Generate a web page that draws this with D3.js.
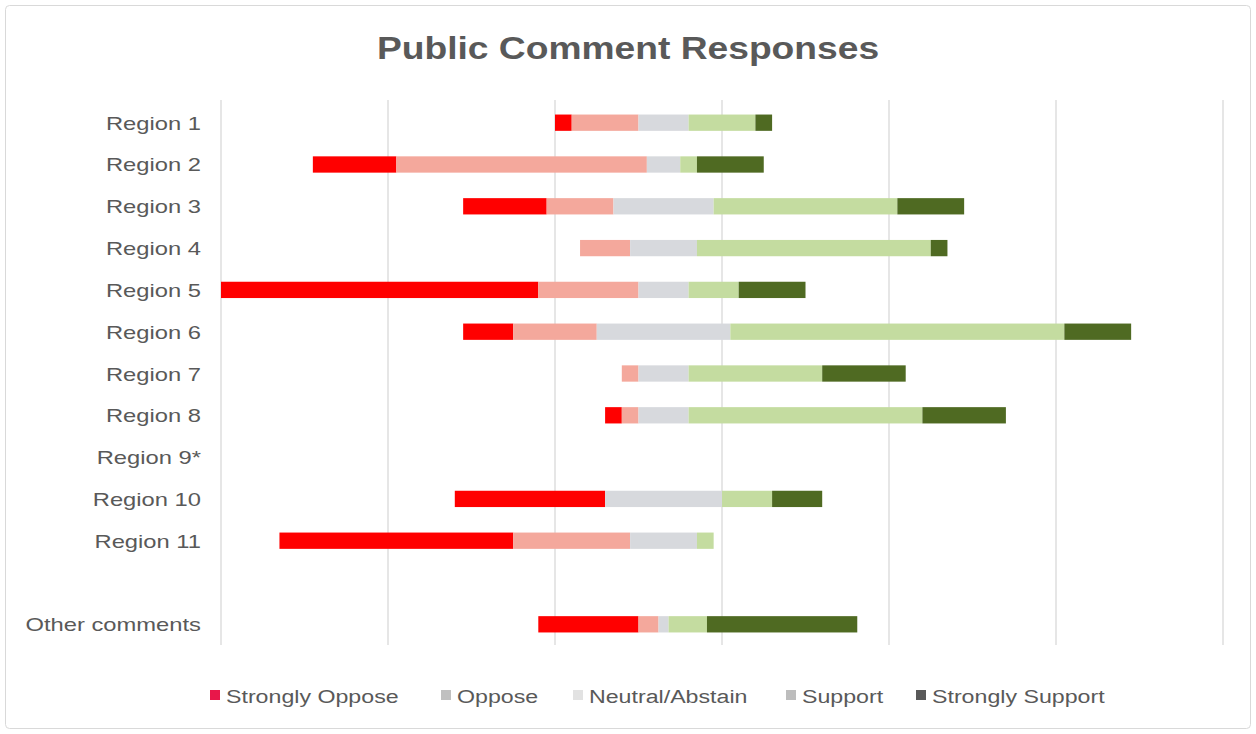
<!DOCTYPE html>
<html><head><meta charset="utf-8">
<script src="https://cdn.jsdelivr.net/npm/d3@7"></script>
<style>body{margin:0;background:#fff;}svg{display:block;font-family:"Liberation Sans",Arial,sans-serif;}</style>
</head><body><svg id="c" width="1256" height="734"></svg>
<script>
const categories = ["Region 1","Region 2","Region 3","Region 4","Region 5","Region 6","Region 7","Region 8","Region 9*","Region 10","Region 11","","Other comments"];
const seriesNames = ["Strongly Oppose","Oppose","Neutral/Abstain","Support","Strongly Support"];
const stronglyOppose = [1,5,5,0,19,3,0,1,0,9,14,0,6];
const oppose         = [4,15,4,3,6,5,1,1,0,0,7,0,1.2];
const neutral        = [3,2,6,4,3,8,3,3,0,7,4,0,0.6];
const support        = [4,1,11,14,3,20,8,14,0,3,1,0,2.3];
const stronglySupport= [1,4,4,1,4,4,5,5,0,3,0,0,9];
const gridTicks = [0,10,20,30,40,50,60];
const barColors = ["#ff0000","#f4a89c","#d7d9dd","#c4dca0","#4f6a22"];
const legendColors = ["#e8174a","#c0c0c0","#e2e2e2","#bdbdbd","#595959"];

const svg = d3.select("#c");
svg.append("rect").attr("x",5.5).attr("y",5.5).attr("width",1245).attr("height",723)
  .attr("rx",4).attr("fill","#fff").attr("stroke","#d9d9d9");
svg.append("text").attr("transform","translate(628,59) scale(1.2,1)").attr("text-anchor","middle")
  .attr("font-size",31).attr("font-weight","bold").attr("fill","#595959").text("Public Comment Responses");

const keys = categories.map((c,i)=>"k"+i);
const x = d3.scaleLinear().domain([0,60]).range([221,1223]);
const y = d3.scaleBand().domain(keys).range([102,645]).paddingInner(0.61).paddingOuter(0.3);

svg.append("g").selectAll("line").data(gridTicks).join("line")
  .attr("x1",d=>x(d)).attr("x2",d=>x(d)).attr("y1",100).attr("y2",645)
  .attr("stroke","#d9d9d9").attr("stroke-width",1.3);

const rows = categories.map((c,i)=>{
  const vals=[stronglyOppose[i],oppose[i],neutral[i],support[i],stronglySupport[i]];
  return {key:keys[i],label:c,vals,left:vals[0]+vals[1]+vals[2]/2};
});
const maxLeft = d3.max(rows,r=>r.left);
const segs=[];
rows.forEach(r=>{
  let start = maxLeft - r.left;
  r.vals.forEach((v,j)=>{ if(v>0) segs.push({key:r.key,s:j,x0:start,x1:start+v}); start+=v; });
});
svg.append("g").selectAll("rect").data(segs).join("rect")
  .attr("x",d=>x(d.x0)).attr("width",d=>x(d.x1)-x(d.x0))
  .attr("y",d=>y(d.key)).attr("height",y.bandwidth())
  .attr("fill",d=>barColors[d.s]);

svg.append("g").selectAll("text").data(rows).join("text")
  .attr("transform",d=>`translate(201,${y(d.key)+y.bandwidth()/2+7}) scale(1.25,1)`)
  .attr("text-anchor","end").attr("font-size",19).attr("fill","#595959").text(d=>d.label);

const legendX = [210,441,573,786,916];
const lg = svg.append("g");
seriesNames.forEach((n,i)=>{
  lg.append("rect").attr("x",legendX[i]).attr("y",690).attr("width",10).attr("height",10).attr("fill",legendColors[i]);
  lg.append("text").attr("transform",`translate(${legendX[i]+16},703) scale(1.22,1)`)
    .attr("font-size",19).attr("fill","#595959").text(n);
});
</script></body></html>
